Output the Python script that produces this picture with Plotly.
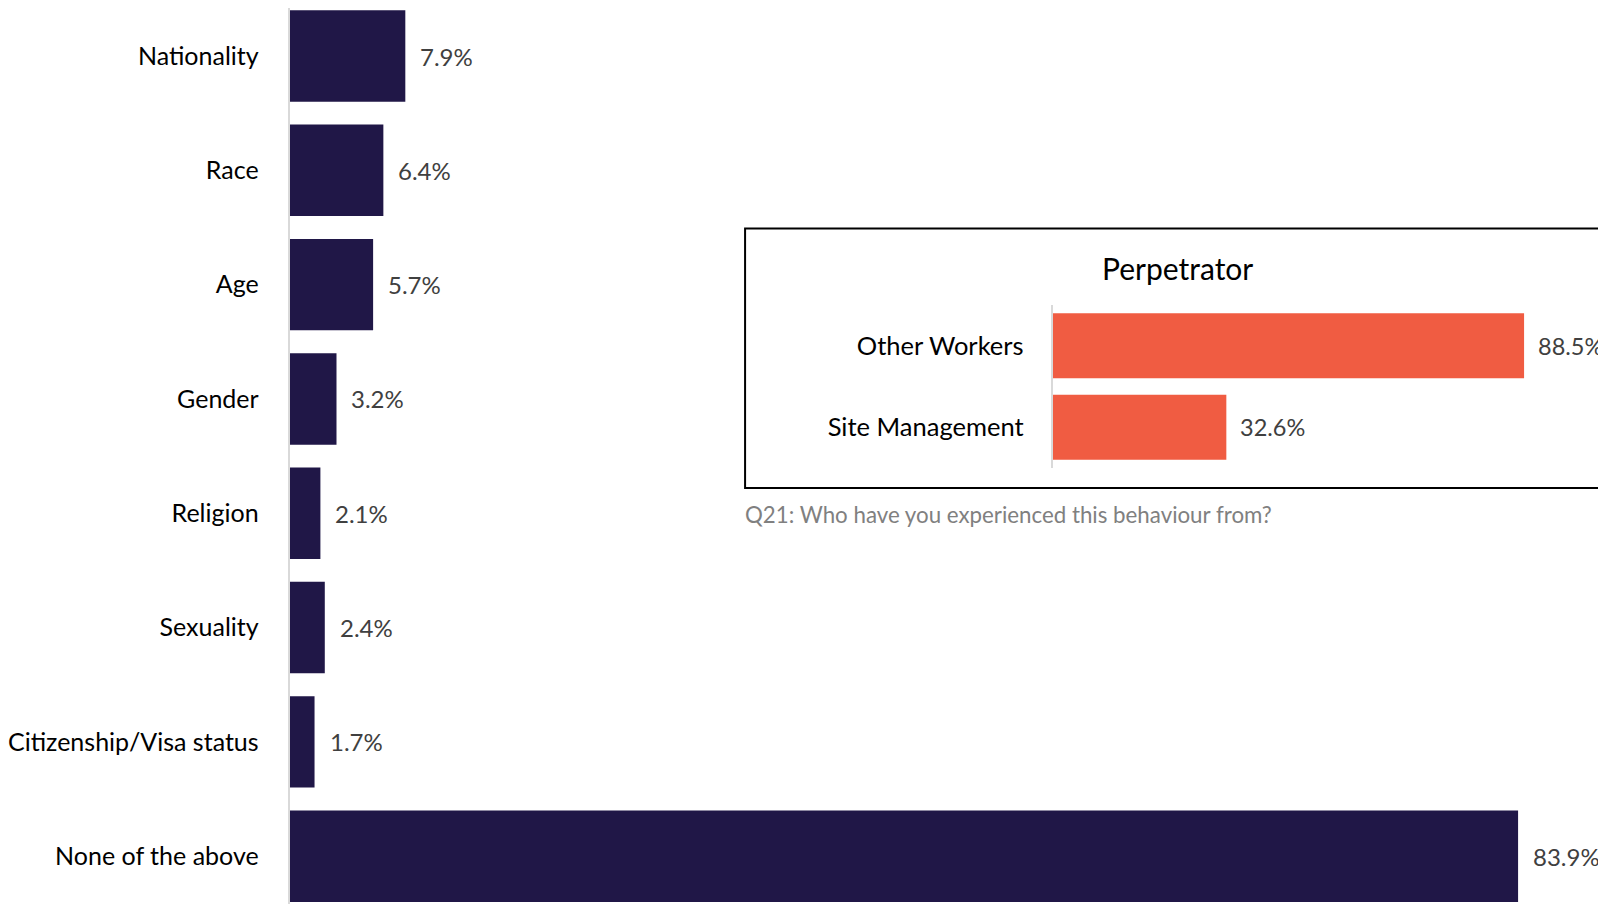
import plotly.graph_objects as go

# Main chart data
categories = ["Nationality", "Race", "Age", "Gender", "Religion", "Sexuality",
              "Citizenship/Visa status", "None of the above"]
values = [7.9, 6.4, 5.7, 3.2, 2.1, 2.4, 1.7, 83.9]

# Inset chart data
perp_categories = ["Other Workers", "Site Management"]
perp_values = [88.5, 32.6]

inset_title = "Perpetrator"
inset_caption = "Q21: Who have you experienced this behaviour from?"

NAVY = "#201747"
ORANGE = "#F05C42"
FONT = "Lato"
OFF = 8  # default page body margin
W, H = 1606 - OFF, 904 - OFF


def px(xp):
    return (xp - OFF) / W


def py(yp):
    return 1 - (yp - OFF) / H


fig = go.Figure()

fig.add_trace(go.Bar(
    x=values, y=categories, orientation="h",
    marker=dict(color=NAVY, line=dict(width=0)),
    width=0.8, xaxis="x", yaxis="y", hoverinfo="skip",
))
fig.add_trace(go.Bar(
    x=perp_values, y=perp_categories, orientation="h",
    marker=dict(color=ORANGE, line=dict(width=0)),
    width=0.8, xaxis="x2", yaxis="y2", hoverinfo="skip",
))

annotations = []
for c, v in zip(categories, values):
    annotations.append(dict(
        x=v, y=c, xref="x", yref="y", text=f"{v:.1f}%", showarrow=False,
        xanchor="left", yanchor="middle", xshift=13,
        font=dict(family=FONT, size=24, color="#404040"),
    ))
for c, v in zip(perp_categories, perp_values):
    annotations.append(dict(
        x=v, y=c, xref="x2", yref="y2", text=f"{v:.1f}%", showarrow=False,
        xanchor="left", yanchor="middle", xshift=12,
        font=dict(family=FONT, size=23.5, color="#404040"),
    ))
annotations.append(dict(
    x=px(1177), y=py(268), xref="paper", yref="paper", text=inset_title,
    showarrow=False, xanchor="center", yanchor="middle",
    font=dict(family=FONT, size=30, color="#000000"),
))
annotations.append(dict(
    x=px(742), y=py(514), xref="paper", yref="paper", text=inset_caption,
    showarrow=False, xanchor="left", yanchor="middle",
    font=dict(family=FONT, size=22.3, color="#808080"),
))

main_scale = 14.66
inset_scale = 5.333
cat_px = 114.31

fig.update_layout(
    width=W, height=H,
    margin=dict(l=0, r=0, t=0, b=0),
    paper_bgcolor="white", plot_bgcolor="rgba(0,0,0,0)",
    showlegend=False,
    font=dict(family=FONT, size=26, color="#000000"),
    xaxis=dict(domain=[px(288), 1], range=[0, (1606 - 288) / main_scale],
               showgrid=False, zeroline=False, showticklabels=False, showline=False),
    yaxis=dict(domain=[0, 1],
               range=[-(56 - 904) / cat_px, -(56 - OFF) / cat_px],
               showgrid=False, zeroline=False,
               showline=True, linecolor="#d9d9d9", linewidth=2,
               ticks="outside", ticklen=0, ticklabelstandoff=24,
               tickfont=dict(family=FONT, size=25, color="#000000")),
    xaxis2=dict(domain=[px(1052), 1], range=[0, (1606 - 1052) / inset_scale], anchor="y2",
                showgrid=False, zeroline=False, showticklabels=False, showline=False),
    yaxis2=dict(domain=[py(468), py(305)], range=[1.5, -0.5], anchor="x2",
                showgrid=False, zeroline=False,
                showline=True, linecolor="#d9d9d9", linewidth=2,
                ticks="outside", ticklen=0, ticklabelstandoff=22,
                tickfont=dict(family=FONT, size=25.5, color="#000000")),
    shapes=[dict(type="rect", xref="paper", yref="paper",
                 x0=px(744), x1=1.02, y0=py(488), y1=py(228.5),
                 line=dict(color="#000000", width=2), fillcolor="rgba(0,0,0,0)",
                 layer="below")],
    annotations=annotations,
)

fig.write_html("out.html")
